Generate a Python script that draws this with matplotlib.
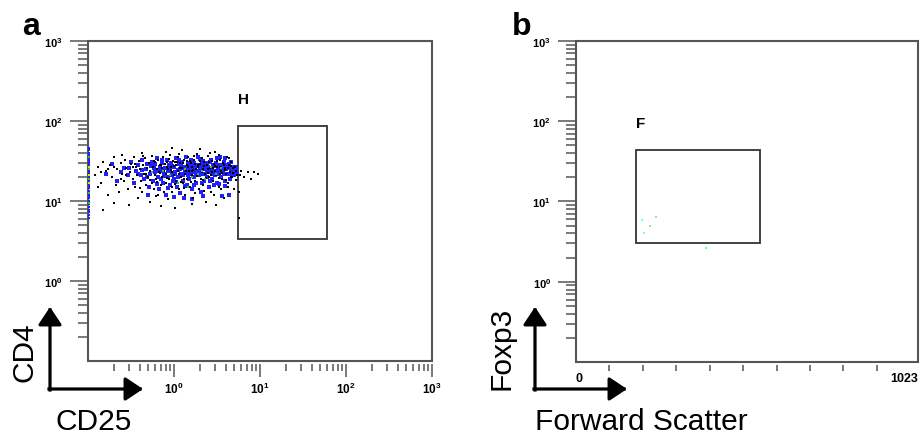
import matplotlib
matplotlib.use('Agg')
import matplotlib.pyplot as plt
from matplotlib.patches import Rectangle, FancyArrowPatch
from matplotlib.ticker import FixedLocator, FixedFormatter, LogLocator, NullFormatter

plt.rcParams['font.family'] = ['Liberation Sans', 'DejaVu Sans']
plt.rcParams['mathtext.fontset'] = 'custom'
plt.rcParams['mathtext.rm'] = 'Liberation Sans:bold'
plt.rcParams['mathtext.bf'] = 'Liberation Sans:bold'
plt.rcParams['mathtext.default'] = 'bf'

# ---------------- data ----------------
# panel a : (CD25, CD4) events
black_events = [
    (0.12, 21), (0.13, 27), (0.14, 17), (0.15, 31), (0.16, 24), (0.17, 12), (0.18, 28), (0.19, 20),
    (0.20, 35), (0.21, 16), (0.22, 25), (0.23, 13), (0.24, 30), (0.25, 22), (0.26, 18), (0.27, 33),
    (0.28, 26), (0.29, 14), (0.15, 7.8), (0.20, 9.5), (0.25, 38), (0.13, 15),
    (0.31, 23), (0.32, 29), (0.33, 19), (0.34, 36), (0.35, 15), (0.36, 27), (0.37, 21), (0.38, 11),
    (0.39, 32), (0.40, 25), (0.41, 18), (0.42, 40), (0.43, 13), (0.44, 28), (0.45, 22), (0.46, 34),
    (0.47, 16), (0.48, 26), (0.50, 20), (0.51, 30), (0.52, 9.8), (0.53, 24), (0.55, 17), (0.56, 37),
    (0.57, 27), (0.58, 14), (0.60, 21), (0.61, 31), (0.62, 19), (0.63, 25), (0.65, 12), (0.66, 33),
    (0.67, 23), (0.69, 28), (0.70, 16),
    (0.72, 26), (0.73, 20), (0.75, 35), (0.76, 13), (0.78, 29), (0.80, 22), (0.81, 17), (0.83, 31),
    (0.85, 25), (0.86, 10.5), (0.88, 19), (0.90, 38), (0.92, 27), (0.94, 15), (0.95, 23), (0.97, 32),
    (1.00, 21), (1.02, 8.2), (1.05, 28), (1.07, 18), (1.10, 36), (1.12, 24), (1.15, 14), (1.18, 30),
    (1.20, 20), (1.23, 26), (1.25, 44), (1.28, 17), (1.30, 33), (1.33, 22), (1.36, 12), (1.40, 28),
    (1.43, 19), (1.46, 35), (1.50, 24), (1.53, 15), (1.56, 30), (1.60, 21), (1.64, 27), (1.68, 11),
    (1.72, 33), (1.76, 18), (1.80, 25), (1.85, 39), (1.90, 22), (1.95, 14), (2.00, 29),
    (2.05, 19), (2.10, 34), (2.15, 25), (2.20, 16), (2.25, 31), (2.30, 22), (2.36, 9.6), (2.42, 28),
    (2.48, 37), (2.55, 20), (2.60, 26), (2.67, 13), (2.74, 32), (2.80, 23), (2.88, 18), (2.95, 29),
    (3.00, 41), (3.10, 21), (3.20, 27), (3.30, 15), (3.40, 33), (3.50, 24), (3.60, 19), (3.70, 30),
    (3.80, 11), (3.90, 26), (4.00, 22), (4.10, 36), (4.20, 17), (4.35, 28), (4.50, 23), (4.60, 31),
    (4.75, 20), (4.90, 26), (5.00, 14), (5.20, 24), (5.40, 21),
    (5.7, 13), (5.7, 6.1), (5.8, 21), (6.1, 24), (6.6, 20), (7.2, 23), (7.9, 19), (8.6, 23), (9.4, 22),
    (0.33, 26.5), (0.47, 21.5), (0.58, 31.5), (0.64, 17.5), (0.71, 28.5), (0.77, 23.5), (0.82, 19.5),
    (0.87, 33.5), (0.93, 24.5), (0.99, 27.5), (1.03, 16.5), (1.08, 31), (1.13, 21.5), (1.19, 25.5),
    (1.26, 29.5), (1.32, 19), (1.38, 23.5), (1.45, 26.5), (1.52, 32), (1.58, 17.5), (1.66, 24.5),
    (1.74, 29), (1.83, 20.5), (1.92, 26.5), (2.02, 31.5), (2.12, 23), (2.22, 27.5), (2.35, 19.5),
    (2.46, 25), (2.58, 30.5), (2.71, 21), (2.86, 26), (3.02, 24), (3.15, 31.5), (3.31, 19.5),
    (3.47, 27), (3.66, 22.5), (3.86, 28), (4.05, 18.5), (4.28, 25.5), (4.55, 27.5), (4.80, 22.5),
    (5.10, 27), (5.30, 18.5), (0.40, 14.5), (0.62, 11.5), (0.95, 13), (1.30, 14.5), (1.75, 12.5),
    (2.25, 13.5), (2.90, 12), (3.55, 14), (4.30, 15), (0.44, 36.5), (0.80, 41), (1.15, 39), (1.70, 37),
    (2.60, 40), (3.30, 38), (4.40, 34), (0.52, 18.5), (0.68, 22.5), (0.84, 27), (1.02, 30.5),
    (1.22, 17.5), (1.42, 31.5), (1.62, 23.5), (1.88, 28.5), (2.18, 18.5), (2.52, 22.5), (2.98, 27.5),
    (3.44, 21.5), (3.95, 24.5), (4.65, 20), (0.30, 9), (0.70, 8.6), (1.60, 9.2), (3.10, 8.8),
    (2.00, 45), (0.95, 46), (0.28, 21), (0.20, 27), (0.17, 25), (0.14, 23), (0.24, 19), (0.35, 29),
]
blue_events = [
    (0.16, 22), (0.19, 29), (0.22, 18), (0.26, 26), (0.29, 21), (0.32, 31), (0.34, 17), (0.36, 24),
    (0.38, 28), (0.41, 21), (0.43, 33), (0.45, 19), (0.47, 25), (0.49, 29), (0.51, 15), (0.53, 22),
    (0.55, 31), (0.57, 18), (0.59, 26), (0.61, 23), (0.63, 34), (0.65, 20), (0.67, 14), (0.69, 27),
    (0.71, 24), (0.73, 30), (0.75, 17), (0.77, 22), (0.79, 26), (0.81, 12), (0.83, 33), (0.85, 20),
    (0.87, 28), (0.89, 16), (0.91, 24), (0.93, 30), (0.96, 21), (0.98, 18), (1.01, 27), (1.04, 23),
    (1.06, 34), (1.09, 15), (1.11, 20), (1.14, 29), (1.17, 25), (1.19, 12.5), (1.22, 22), (1.25, 31),
    (1.28, 18), (1.31, 27), (1.34, 24), (1.37, 36), (1.40, 16), (1.44, 21), (1.47, 29), (1.50, 19),
    (1.54, 26), (1.57, 33), (1.61, 14), (1.65, 23), (1.69, 30), (1.73, 20), (1.77, 27), (1.81, 17),
    (1.86, 24), (1.90, 35), (1.95, 21), (2.00, 26), (2.05, 13), (2.10, 29), (2.15, 22), (2.20, 32),
    (2.26, 18), (2.32, 25), (2.38, 30), (2.44, 20), (2.50, 27), (2.56, 15), (2.63, 23), (2.70, 33),
    (2.77, 19), (2.84, 28), (2.92, 24), (3.00, 21), (3.08, 30), (3.16, 17), (3.25, 26), (3.34, 22),
    (3.43, 35), (3.53, 20), (3.63, 28), (3.73, 24), (3.84, 31), (3.95, 18), (4.07, 25), (4.20, 22),
    (4.32, 29), (4.45, 19), (4.60, 25), (4.75, 23), (4.90, 27), (5.05, 21), (5.20, 24), (5.35, 22),
    (1.00, 19), (1.20, 26), (1.50, 23), (0.90, 25), (1.80, 22), (2.40, 24), (0.60, 29), (0.70, 19),
    (2.90, 16), (3.60, 11.5), (4.40, 12), (1.30, 11), (0.50, 12),
    (0.42, 24.5), (0.54, 27.5), (0.66, 23.5), (0.78, 20.5), (0.86, 24), (0.95, 27.5), (1.03, 21.5),
    (1.12, 24.5), (1.21, 29), (1.29, 21), (1.39, 25.5), (1.48, 27.5), (1.59, 22), (1.67, 26.5),
    (1.78, 24), (1.89, 28), (1.98, 23), (2.08, 25.5), (2.19, 27), (2.30, 21.5), (2.42, 28.5),
    (2.55, 24), (2.68, 26), (2.82, 21.5), (2.96, 27.5), (3.12, 24), (3.28, 28.5), (3.45, 23),
    (3.62, 26), (3.80, 22), (4.00, 28.5), (4.22, 25.5), (4.50, 22), (4.80, 25.5), (5.10, 23),
    (0.63, 16.5), (0.85, 14.5), (1.05, 17.5), (1.35, 15.5), (1.72, 16), (2.12, 17), (2.65, 18),
    (3.30, 16.5), (3.90, 15.5), (0.48, 20), (0.72, 32.5), (1.15, 33), (1.55, 30), (2.00, 33.5),
    (2.60, 31), (3.20, 34), (3.90, 34.5), (4.60, 30.5), (5.30, 27), (0.38, 22), (0.30, 25.5),
    (0.24, 23), (1.00, 11.2), (2.20, 11.5), (1.60, 10.5),
]
green_events = [
    (0.55, 23), (0.90, 21), (1.10, 17), (1.35, 25), (1.60, 20), (1.90, 22), (2.30, 19), (2.70, 27),
    (3.10, 22), (3.50, 26), (0.75, 24), (1.45, 15), (2.10, 24),
]
# events piled up on the CD25 axis minimum
edge_cd25 = 0.104
edge_blue_cd4 = [46, 43, 40, 38, 36, 34, 33, 31, 30, 29, 28, 26, 24, 23, 22, 20, 19, 18, 16, 15,
                 14.5, 13.5, 13, 12, 11.5, 11, 10, 9.2, 8.5, 7.8, 7.2, 6.6, 6.1]
edge_green_cd4 = [25, 19, 12.5, 9.5, 35]
edge_yellow_cd4 = [27, 21, 17]

gate_h_cd25 = [5.55, 60]
gate_h_cd4 = [3.35, 87]

# panel b : (forward scatter, Foxp3) events
fsc_cyan = [197, 203]
foxp3_cyan = [5.8, 4.0]
fsc_green = [221, 239, 389]
foxp3_green = [4.9, 6.5, 2.66]
gate_f_fsc = [179, 550]
gate_f_foxp3 = [3.0, 43.3]

log_ticks = [1, 10, 100, 1000]
log_labels = ['$10^{0}$', '$10^{1}$', '$10^{2}$', '$10^{3}$']
fsc_ticks = [0, 1023]
fsc_labels = ['0', '1023']
fsc_minor = [100, 200, 300, 400, 500, 600, 700, 800, 900]

# ---------------- figure ----------------
fig = plt.figure(figsize=(9.21, 4.35), dpi=100)
ax_a = fig.add_axes([0.0955, 0.1678, 0.3735, 0.7356])
ax_b = fig.add_axes([0.6254, 0.1655, 0.3713, 0.7380])

FRAME = '#555555'


def style_common(ax):
    ax.set_yscale('log')
    ax.set_ylim(0.1, 1000)
    for s in ax.spines.values():
        s.set_visible(False)
    ax.spines['bottom'].set_position(('outward', 2.2))
    ax.add_patch(Rectangle((0, 0), 1, 1, transform=ax.transAxes, fill=False,
                           edgecolor=FRAME, lw=1.5, clip_on=False, zorder=5))
    ax.yaxis.set_major_locator(FixedLocator(log_ticks))
    ax.yaxis.set_major_formatter(FixedFormatter(log_labels))
    ax.yaxis.set_minor_locator(LogLocator(base=10, subs=[2, 3, 4, 5, 6, 7, 8, 9]))
    ax.yaxis.set_minor_formatter(NullFormatter())
    ax.tick_params(axis='y', which='major', length=13, width=1.1, color=FRAME,
                   pad=5, labelsize=8)
    ax.tick_params(axis='y', which='minor', length=7, width=1.1, color=FRAME)
    ax.set_facecolor('white')


# panel a
style_common(ax_a)
ax_a.set_xscale('log')
ax_a.set_xlim(0.1, 1000)
ax_a.xaxis.set_major_locator(FixedLocator(log_ticks))
ax_a.xaxis.set_major_formatter(FixedFormatter(log_labels))
ax_a.xaxis.set_minor_locator(LogLocator(base=10, subs=[2, 3, 4, 5, 6, 7, 8, 9]))
ax_a.xaxis.set_minor_formatter(NullFormatter())
ax_a.tick_params(axis='x', which='major', length=9, width=1.1, color=FRAME, pad=3, labelsize=8.5)
ax_a.tick_params(axis='x', which='minor', length=5, width=1.1, color=FRAME)

ux, uy = zip(*blue_events)
ax_a.scatter(ux, uy, s=5.5, c='#1f1fff', marker='s', linewidths=0, zorder=2)
bx, by = zip(*black_events)
ax_a.scatter(bx, by, s=2.4, c='black', marker='s', linewidths=0, zorder=3)
gx, gy = zip(*green_events)
ax_a.scatter(gx, gy, s=4.0, c='#22cc22', marker='s', linewidths=0, zorder=4)
ax_a.scatter([edge_cd25] * len(edge_blue_cd4), edge_blue_cd4, s=4, c='#1f1fff', marker='s',
             linewidths=0, clip_on=False, zorder=6)
ax_a.scatter([edge_cd25] * len(edge_green_cd4), edge_green_cd4, s=4, c='#22cc22', marker='s',
             linewidths=0, clip_on=False, zorder=7)
ax_a.scatter([edge_cd25] * len(edge_yellow_cd4), edge_yellow_cd4, s=4, c='#e0e000', marker='s',
             linewidths=0, clip_on=False, zorder=7)

ax_a.add_patch(Rectangle((gate_h_cd25[0], gate_h_cd4[0]), gate_h_cd25[1] - gate_h_cd25[0],
                         gate_h_cd4[1] - gate_h_cd4[0], fill=False, edgecolor='#333333', lw=1.3))
ax_a.text(gate_h_cd25[0], 168, 'H', fontsize=11, fontweight='bold', ha='left', va='baseline')

# panel b
style_common(ax_b)
ax_b.set_xlim(0, 1023)
ax_b.xaxis.set_major_locator(FixedLocator(fsc_ticks))
ax_b.xaxis.set_major_formatter(FixedFormatter(fsc_labels))
ax_b.xaxis.set_minor_locator(FixedLocator(fsc_minor))
ax_b.tick_params(axis='x', which='major', length=0, pad=5, labelsize=9)
ax_b.tick_params(axis='x', which='minor', length=4, width=1.1, color=FRAME)
lbls = ax_b.get_xticklabels()
lbls[0].set_horizontalalignment('left')
lbls[1].set_horizontalalignment('right')
for lab in lbls:
    lab.set_fontweight('bold')

ax_b.scatter(fsc_cyan, foxp3_cyan, s=3, c='#66ffee', marker='s', linewidths=0, zorder=3)
ax_b.scatter(fsc_green, foxp3_green, s=3, c='#77ff77', marker='s', linewidths=0, zorder=3)
ax_b.add_patch(Rectangle((gate_f_fsc[0], gate_f_foxp3[0]), gate_f_fsc[1] - gate_f_fsc[0],
                         gate_f_foxp3[1] - gate_f_foxp3[0], fill=False, edgecolor='#333333', lw=1.3))
ax_b.text(gate_f_fsc[0], 84, 'F', fontsize=11, fontweight='bold', ha='left', va='baseline')

# ---------------- annotations (figure pixels) ----------------
arrow_style = '-|>,head_length=0.54,head_width=0.36'


def corner_arrows(x0, y0, xtip, ytip):
    kw = dict(arrowstyle=arrow_style, mutation_scale=20, lw=2.3, color='black',
              shrinkA=0, shrinkB=0, capstyle='projecting')
    fig.add_artist(FancyArrowPatch((x0, y0 - 1), (x0, ytip), transform=None, **kw))
    fig.add_artist(FancyArrowPatch((x0 - 1, y0), (xtip, y0), transform=None, **kw))


corner_arrows(50, 45, 143, 127)
corner_arrows(535, 45, 627, 127)

fig.text(33 / 921, 83 / 435, 'CD4', fontsize=21.5, rotation=90, rotation_mode='anchor',
         ha='center', va='baseline')
fig.text(93.5 / 921, 5 / 435, 'CD25', fontsize=21.5, ha='center', va='baseline')
fig.text(509 / 921, 86.5 / 435, 'Foxp3', fontsize=21.5, rotation=90, rotation_mode='anchor',
         ha='center', va='baseline')
fig.text(641.5 / 921, 5 / 435, 'Forward Scatter', fontsize=21.5, ha='center', va='baseline')

fig.text(22 / 921, 400 / 435, 'a', fontsize=23, fontweight='bold', ha='left', va='baseline')
fig.text(512 / 921, 400 / 435, 'b', fontsize=23, fontweight='bold', ha='left', va='baseline')

fig.savefig('out.png', dpi=100, facecolor='white')
